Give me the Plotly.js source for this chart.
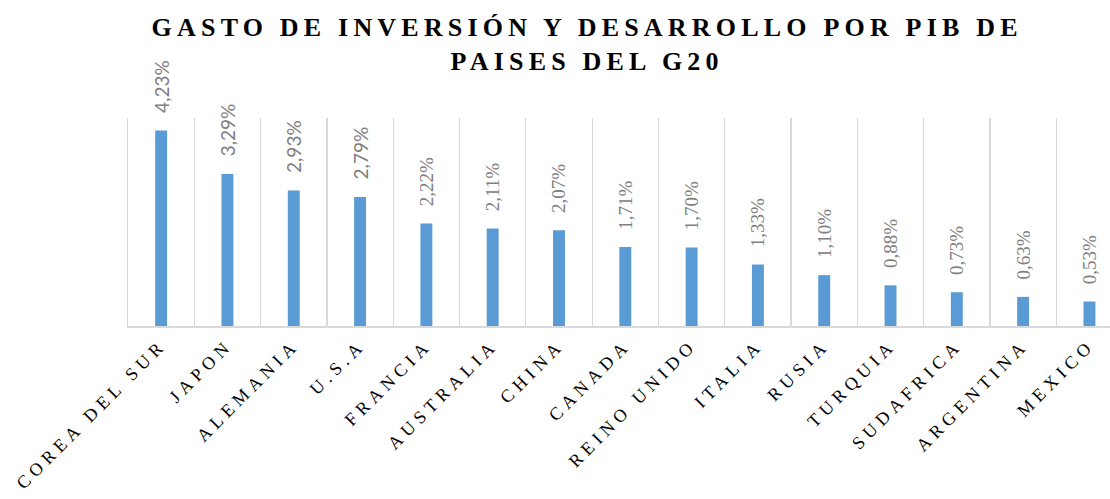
<!DOCTYPE html>
<html>
<head>
<meta charset="utf-8">
<script src="https://cdn.plot.ly/plotly-3.0.1.min.js"></script>
<style>
html,body{margin:0;padding:0;background:#fff;}
.xtick text{letter-spacing:5px;font-family:'Liberation Serif',serif !important;}
.gtitle{letter-spacing:5.2px;font-family:'Liberation Serif',serif !important;font-weight:bold !important;}
.bars .point text.bartext{font-family:'Liberation Serif',serif !important;}
.bars .point:nth-child(-n+4) text.bartext{font-family:'Lato',sans-serif !important;}
</style>
</head>
<body>
<div id="chart" style="width:1110px;height:499px;"></div>
<script>
const countries = ["COREA DEL SUR","JAPON","ALEMANIA","U.S.A","FRANCIA","AUSTRALIA","CHINA","CANADA","REINO UNIDO","ITALIA","RUSIA","TURQUIA","SUDAFRICA","ARGENTINA","MEXICO"];
const gastoPIB = [4.23,3.29,2.93,2.79,2.22,2.11,2.07,1.71,1.70,1.33,1.10,0.88,0.73,0.63,0.53];
const labels = gastoPIB.map(v => v.toFixed(2).replace('.', ',') + '%');
const labelFonts = gastoPIB.map((v,i) => i < 4 ? 'Lato' : 'Liberation Serif');

const trace = {
  type: 'bar',
  x: countries,
  y: gastoPIB,
  text: labels,
  texttemplate: '   %{text}',
  textposition: 'outside',
  textangle: -90,
  constraintext: 'none',
  cliponaxis: false,
  textfont: {family: labelFonts, size: 19, color: '#808080'},
  marker: {color: '#5B9BD5'},
  width: 0.18,
  hoverinfo: 'none'
};

const layout = {
  width: 1110, height: 499,
  margin: {l: 128, r: 0, t: 118, b: 173},
  paper_bgcolor: '#fff', plot_bgcolor: '#fff',
  showlegend: false,
  font: {family: 'Liberation Serif'},
  title: {
    text: 'GASTO DE INVERSIÓN Y DESARROLLO POR PIB DE<br>PAISES DEL G20',
    font: {family: 'Liberation Serif', size: 26, color: '#000', weight: 'bold'},
    x: 0.529, xanchor: 'center', xref: 'container',
    y: 0.928, yanchor: 'top', yref: 'container'
  },
  xaxis: {
    type: 'category',
    range: [-0.5, 14.31],
    tickson: 'boundaries',
    showgrid: true, gridcolor: '#d9d9d9', gridwidth: 1.3,
    showline: true, linecolor: '#d9d9d9', linewidth: 1.5,
    ticks: '', tickangle: -45,
    tickfont: {family: 'Liberation Serif', size: 18, color: '#000'},
    automargin: false
  },
  yaxis: {
    range: [0, 4.5],
    showgrid: false, zeroline: false,
    showline: true, linecolor: '#d9d9d9', linewidth: 1.3,
    showticklabels: false, ticks: '',
    automargin: false
  }
};

Plotly.newPlot('chart', [trace], layout, {staticPlot: true, displayModeBar: false});
</script>
</body>
</html>
